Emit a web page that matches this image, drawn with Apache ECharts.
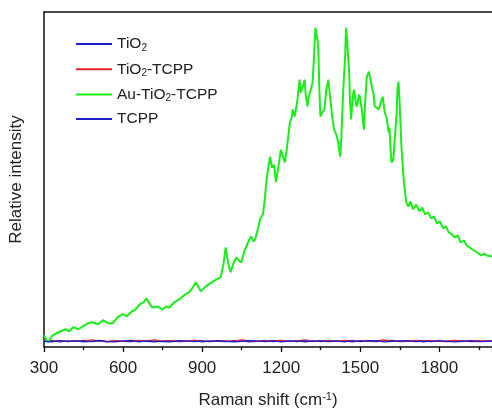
<!DOCTYPE html>
<html>
<head>
<meta charset="utf-8">
<script src="https://cdn.jsdelivr.net/npm/echarts@6/dist/echarts.min.js"></script>
<style>
html,body{margin:0;padding:0;background:#fff;}
#c{width:492px;height:414px;}
</style>
</head>
<body>
<div id="c"></div>
<script>
// ---- data ----
const seriesNames = ['TiO2', 'TiO2-TCPP', 'Au-TiO2-TCPP', 'TCPP'];
const xTickLabels = [300, 600, 900, 1200, 1500, 1800];

const greenX = [300,314,333,355,381,396,411,430,449,468,486,505,524,543,561,580,599,614,633,648,663,678,689,700,711,730,749,764,775,794,813,831,850,865,876,895,914,936,955,970,981,989,1000,1008,1019,1030,1041,1049,1060,1068,1079,1086,1094,1101,1113,1120,1131,1139,1143,1150,1158,1165,1173,1180,1188,1199,1206,1214,1221,1233,1240,1244,1251,1259,1263,1270,1274,1281,1289,1293,1300,1304,1311,1319,1323,1330,1338,1341,1345,1349,1356,1364,1371,1379,1386,1394,1401,1409,1416,1424,1428,1435,1443,1446,1450,1458,1461,1465,1473,1476,1484,1488,1495,1499,1506,1514,1518,1525,1533,1536,1544,1551,1555,1563,1570,1578,1585,1593,1600,1608,1611,1615,1619,1626,1630,1638,1641,1645,1649,1656,1664,1671,1675,1683,1690,1701,1713,1724,1735,1746,1758,1769,1780,1791,1803,1814,1825,1836,1848,1859,1870,1881,1893,1904,1915,1926,1938,1949,1960,1971,1980,2000];
const greenY = [3.5,1.4,3.5,4.4,5.3,4.7,5.9,5.3,6.2,7.1,7.4,6.8,8.0,7.1,7.1,8.9,9.8,9.2,10.6,11.2,12.7,13.3,14.5,13.0,11.8,12.1,11.2,12.1,11.8,13.3,14.2,15.4,16.3,17.8,19.3,16.6,18.1,19.3,20.2,20.8,24.7,29.7,24.7,22.3,25.0,26.7,25.6,25.3,28.5,30.0,32.1,33.0,31.5,32.1,35.7,38.1,39.6,44.9,49.0,53.0,56.8,53.5,54.4,49.3,53.0,58.9,57.1,55.1,58.9,67.0,68.5,70.9,68.8,72.3,74.7,79.8,75.9,77.4,79.8,75.3,71.8,74.4,73.9,78.9,84.3,95.3,91.7,88.8,76.8,68.8,70.0,70.9,76.8,79.8,74.4,68.5,64.9,63.4,61.3,56.8,61.9,75.9,87.2,95.3,91.7,81.9,73.9,67.9,75.3,76.8,72.4,71.8,75.3,74.7,70.9,64.9,72.4,80.7,82.2,81.0,77.7,75.3,71.8,71.5,70.9,73.0,74.7,70.0,68.5,64.0,65.5,58.9,55.1,56.0,61.0,69.4,76.8,79.2,73.9,60.4,50.9,45.5,43.1,41.9,43.4,41.1,42.5,40.5,41.6,39.6,40.2,38.4,39.0,36.9,37.5,35.4,36.0,34.2,33.6,32.7,33.3,31.2,31.8,30.3,29.7,29.1,28.5,27.9,27.3,27.9,27.3,27.0];

const baseX = [300,330,360,390,420,450,480,510,540,570,600,630,660,690,720,750,780,810,840,870,900,930,960,990,1020,1050,1080,1110,1140,1170,1200,1230,1260,1290,1320,1350,1380,1410,1440,1470,1500,1530,1560,1590,1620,1650,1680,1710,1740,1770,1800,1830,1860,1890,1920,1950,1980,2000];
const tio2Y = [1.6,1.9,1.5,1.8,1.7,2.0,1.6,1.8,1.5,1.9,1.7,1.6,2.0,1.7,1.5,1.8,1.9,1.6,1.7,2.0,1.5,1.8,1.7,1.6,1.9,1.8,1.5,1.7,2.0,1.6,1.8,1.7,1.9,1.5,1.8,1.6,2.0,1.7,1.8,1.5,1.9,1.7,1.6,1.8,2.0,1.6,1.7,1.9,1.5,1.8,1.7,1.6,1.9,1.8,1.6,1.7,1.8,1.7];
const tio2TcppY = [1.8,1.7,1.9,1.7,1.8,1.7,2.1,1.8,1.7,1.9,1.7,2.0,1.8,1.8,2.1,1.7,1.8,1.9,1.7,2.0,1.8,1.7,1.9,1.8,1.7,2.1,1.8,1.7,1.9,1.8,2.0,1.7,1.8,2.1,1.7,1.8,1.9,1.7,2.0,1.8,1.7,1.9,1.8,2.1,1.7,1.8,1.7,2.0,1.8,1.9,1.7,1.8,2.0,1.7,1.8,1.9,1.7,1.8];
const tcppY = [1.7,1.5,1.9,1.6,1.8,1.5,1.7,2.0,1.6,1.5,1.8,1.9,1.5,1.8,1.7,1.6,1.5,1.9,1.8,1.6,1.8,1.6,1.9,1.7,1.5,1.7,1.9,1.8,1.6,1.9,1.5,1.8,1.6,1.8,1.7,1.9,1.6,1.8,1.5,1.9,1.6,1.8,1.9,1.5,1.7,1.8,1.9,1.6,1.8,1.6,1.9,1.7,1.5,1.7,1.9,1.6,1.7,1.8];

const zip = (xs, ys) => xs.map((x, i) => [x, ys[i]]);

const FONT = '"Liberation Sans", Arial, sans-serif';
const chart = echarts.init(document.getElementById('c'), null, {renderer: 'canvas'});

function line(name, xs, ys, color, width) {
  return {
    name: name, type: 'line', data: zip(xs, ys), showSymbol: false, symbol: 'none',
    lineStyle: {color: color, width: width}, itemStyle: {color: color},
    animation: false, z: 2
  };
}

chart.setOption({
  animation: false,
  backgroundColor: '#fff',
  grid: {left: 43, right: -3, top: 12, bottom: 66, containLabel: false},
  legend: {
    orient: 'vertical', left: 76, top: 34, itemGap: 6.3, padding: 0,
    icon: 'rect', itemWidth: 36, itemHeight: 2,
    data: seriesNames,
    formatter: n => n.replace('TiO2', 'TiO{sub|2}'),
    textStyle: {
      fontFamily: FONT, fontSize: 15.5, color: '#222', lineHeight: 18,
      rich: {sub: {fontFamily: FONT, fontSize: 10, color: '#222', verticalAlign: 'bottom', lineHeight: 18, padding: [9, 0, 0, 0]}}
    }
  },
  xAxis: [{
    type: 'value', min: 300, max: 2000, interval: 300,
    name: 'Raman shift (cm{sup|-1})', nameLocation: 'middle', nameGap: 44,
    nameTextStyle: {fontFamily: FONT, fontSize: 17, color: '#222',
      rich: {sup: {fontFamily: FONT, fontSize: 11, color: '#222', verticalAlign: 'top', padding: [0, 0, 8, 0]}}},
    axisLine: {show: true, lineStyle: {color: '#111', width: 1.5}},
    axisTick: {show: true, inside: false, length: 5, lineStyle: {color: '#111', width: 1.3}},
    minorTick: {show: true, splitNumber: 2, length: 3, lineStyle: {color: '#111', width: 1.3}},
    axisLabel: {fontFamily: FONT, fontSize: 17, color: '#222', margin: 13, showMaxLabel: false,
      formatter: v => xTickLabels.includes(v) ? String(v) : ''},
    splitLine: {show: false}, minorSplitLine: {show: false}
  }, {
    type: 'value', position: 'top', min: 300, max: 2000,
    axisLine: {show: true, lineStyle: {color: '#111', width: 1.5}},
    axisTick: {show: false}, axisLabel: {show: false}, splitLine: {show: false}
  }],
  yAxis: {
    type: 'value', min: 0, max: 100,
    name: 'Relative intensity', nameLocation: 'middle', nameGap: 19,
    nameTextStyle: {fontFamily: FONT, fontSize: 17, color: '#222'},
    axisLine: {show: true, lineStyle: {color: '#111', width: 1.5}},
    axisTick: {show: false}, axisLabel: {show: false}, splitLine: {show: false}
  },
  series: [
    line(seriesNames[0], baseX, tio2Y, '#1f1fc8', 1.3),
    line(seriesNames[1], baseX, tio2TcppY, '#e8232b', 1.3),
    line(seriesNames[2], greenX, greenY, '#19ee19', 2),
    line(seriesNames[3], baseX, tcppY, '#1f1fc8', 1.3)
  ]
});
</script>
</body>
</html>
